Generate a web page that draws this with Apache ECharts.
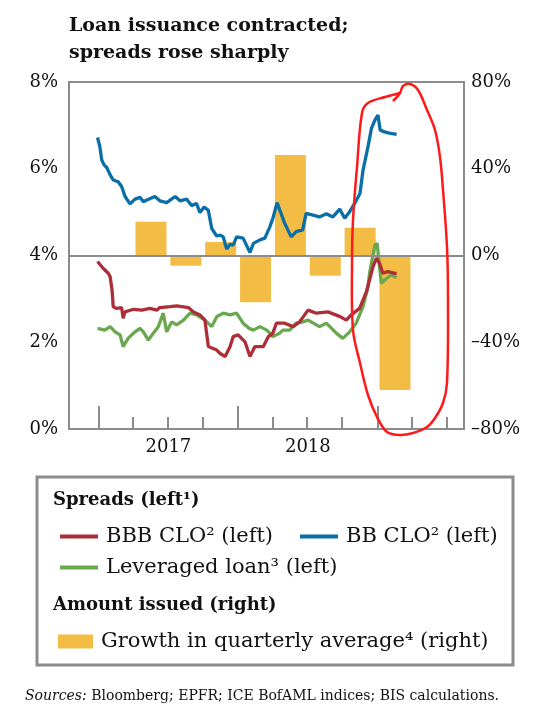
<!DOCTYPE html>
<html><head><meta charset="utf-8">
<script src="https://cdn.jsdelivr.net/npm/echarts@6/dist/echarts.min.js"></script>
<style>html,body{margin:0;padding:0;background:#fff}#c{width:533px;height:716px}</style>
</head><body><div id="c"></div>
<script>
// ---- data ----
const titleText = 'Loan issuance contracted;\nspreads rose sharply';
const yearLabels = [2017, 2018];
const quarterStarts = ['2017-01-01','2017-04-01','2017-07-01','2017-10-01','2018-01-01','2018-04-01','2018-07-01','2018-10-01','2019-01-01','2019-04-01','2019-07-01'];
const leftTicks = [0, 2, 4, 6, 8];
const rightTicks = [-80, -40, 0, 40, 80];

const quarters = ['2017-Q2','2017-Q3','2017-Q4','2018-Q1','2018-Q2','2018-Q3','2018-Q4','2019-Q1'];
const growth = [15.6, -4.7, 6.2, -21.6, 46.3, -9.3, 12.8, -62.0];

const bbDates = ['2016-12-29','2017-01-04','2017-01-09','2017-01-15','2017-01-22','2017-01-31','2017-02-08','2017-02-21','2017-03-02','2017-03-11','2017-03-24','2017-04-06','2017-04-19','2017-04-28','2017-05-07','2017-05-28','2017-06-10','2017-06-28','2017-07-20','2017-08-02','2017-08-19','2017-09-01','2017-09-14','2017-09-23','2017-10-04','2017-10-15','2017-10-24','2017-11-06','2017-11-15','2017-11-23','2017-12-02','2017-12-11','2017-12-19','2017-12-28','2018-01-14','2018-02-01','2018-02-10','2018-02-27','2018-03-12','2018-03-25','2018-04-02','2018-04-13','2018-04-20','2018-05-03','2018-05-20','2018-06-02','2018-06-19','2018-06-28','2018-07-16','2018-08-02','2018-08-20','2018-09-06','2018-09-24','2018-10-07','2018-10-20','2018-11-02','2018-11-16','2018-11-24','2018-12-07','2018-12-16','2018-12-25','2019-01-02','2019-01-08','2019-01-19','2019-02-01','2019-02-20'];
const bbValues = [6.72,6.51,6.20,6.09,6.03,5.86,5.74,5.70,5.59,5.36,5.19,5.30,5.34,5.24,5.28,5.36,5.26,5.22,5.36,5.26,5.30,5.15,5.20,4.99,5.12,5.04,4.62,4.45,4.47,4.43,4.15,4.26,4.24,4.43,4.40,4.07,4.28,4.36,4.40,4.66,4.86,5.22,5.05,4.74,4.43,4.55,4.59,4.97,4.93,4.89,4.96,4.89,5.07,4.86,5.01,5.20,5.43,5.97,6.51,6.93,7.12,7.24,6.89,6.85,6.82,6.79];

const bbbDates = ['2016-12-29','2017-01-13','2017-01-26','2017-01-31','2017-02-05','2017-02-08','2017-02-17','2017-03-02','2017-03-06','2017-03-11','2017-04-02','2017-04-24','2017-05-15','2017-06-02','2017-06-10','2017-07-07','2017-07-24','2017-08-24','2017-09-06','2017-09-23','2017-10-06','2017-10-15','2017-11-06','2017-11-15','2017-11-28','2017-12-11','2017-12-19','2018-01-01','2018-01-19','2018-02-01','2018-02-14','2018-03-08','2018-03-21','2018-04-02','2018-04-11','2018-05-03','2018-05-25','2018-06-11','2018-07-03','2018-07-25','2018-08-24','2018-09-25','2018-10-11','2018-10-24','2018-11-15','2018-12-03','2018-12-20','2018-12-29','2019-01-06','2019-01-15','2019-01-28','2019-02-15','2019-02-20'];
const bbbValues = [3.86,3.70,3.59,3.51,3.20,2.82,2.78,2.80,2.55,2.70,2.76,2.74,2.78,2.74,2.80,2.82,2.84,2.80,2.70,2.63,2.51,1.90,1.82,1.74,1.67,1.90,2.13,2.17,2.01,1.67,1.90,1.90,2.13,2.21,2.44,2.44,2.36,2.47,2.74,2.67,2.70,2.59,2.51,2.63,2.78,3.17,3.74,3.94,3.82,3.59,3.63,3.59,3.59];

const loanDates = ['2016-12-29','2017-01-17','2017-01-31','2017-02-13','2017-02-26','2017-03-06','2017-03-19','2017-04-02','2017-04-19','2017-04-28','2017-05-11','2017-05-24','2017-06-06','2017-06-19','2017-06-28','2017-07-11','2017-07-24','2017-08-11','2017-08-28','2017-09-14','2017-10-06','2017-10-24','2017-11-06','2017-11-23','2017-12-11','2017-12-28','2018-01-14','2018-01-30','2018-02-10','2018-02-27','2018-03-17','2018-03-25','2018-04-02','2018-04-20','2018-04-28','2018-05-16','2018-06-02','2018-06-19','2018-07-03','2018-07-25','2018-08-02','2018-08-20','2018-09-15','2018-10-02','2018-10-20','2018-11-06','2018-11-24','2018-12-07','2018-12-11','2018-12-25','2018-12-31','2019-01-06','2019-01-11','2019-01-24','2019-02-06','2019-02-20'];
const loanValues = [2.32,2.28,2.36,2.24,2.17,1.90,2.09,2.21,2.32,2.24,2.05,2.21,2.36,2.67,2.24,2.47,2.40,2.51,2.67,2.63,2.51,2.36,2.59,2.67,2.63,2.67,2.44,2.32,2.28,2.36,2.28,2.21,2.13,2.21,2.28,2.28,2.44,2.47,2.51,2.40,2.36,2.44,2.21,2.09,2.24,2.44,2.82,3.28,3.59,4.24,4.28,3.74,3.36,3.47,3.55,3.49];

// ---- helpers ----
function toYear(s) {
  const d = Date.parse(s + 'T00:00:00Z');
  const y = new Date(d).getUTCFullYear();
  const a = Date.UTC(y, 0, 1), b = Date.UTC(y + 1, 0, 1);
  return y + (d - a) / (b - a);
}
function quarterMid(q) {
  const y = +q.slice(0, 4), n = +q.slice(6);
  return y + (n - 1) * 0.25 + 0.125;
}
const zip = (ds, vs) => ds.map((d, i) => [toYear(d), vs[i]]);

const FONT = '"DejaVu Serif", "Liberation Serif", serif';
const GRAY = '#8c8c8c';
const C_RED = '#ad2e38', C_BLUE = '#0a6fa8', C_GREEN = '#6aa84f', C_BAR = '#f3bc45';
const X_MIN = 2016.787, X_MAX = 2019.62;
const TICK_SHORT = 12, TICK_LONG = 23;

const chart = echarts.init(document.getElementById('c'), null, {renderer: 'canvas'});
const names = ['BBB CLO\u00b2 (left)', 'BB CLO\u00b2 (left)', 'Leveraged loan\u00b3 (left)', 'Growth in quarterly average\u2074 (right)'];

const legendBase = {
  orient: 'horizontal', itemGap: 0, icon: 'rect', itemWidth: 38, itemHeight: 4,
  selectedMode: false,
  textStyle: {fontFamily: FONT, fontSize: 21, color: '#111', padding: [0, 0, 0, 3]}
};

const staticGraphic = [
  {type: 'text', x: 69, y: 13, style: {text: titleText, font: 'bold 19px ' + FONT, fill: '#111', lineHeight: 27}},
  {type: 'rect', z: -10, shape: {x: 37, y: 477, width: 476, height: 188}, style: {fill: '#fff', stroke: GRAY, lineWidth: 3}},
  {type: 'text', x: 53, y: 491, style: {text: 'Spreads (left\u00b9)', font: 'bold 18px ' + FONT, fill: '#111'}},
  {type: 'text', x: 53, y: 596, style: {text: 'Amount issued (right)', font: 'bold 18px ' + FONT, fill: '#111'}},
  {type: 'text', x: 25, y: 689, style: {
    text: '{i|Sources:} Bloomberg; EPFR; ICE BofAML indices; BIS calculations.',
    font: '14px ' + FONT, fill: '#111',
    rich: {i: {fontStyle: 'italic', fontFamily: FONT, fontSize: 14, fill: '#111'}}}},
  {type: 'polyline', z: 100, shape: {smooth: 0.35, points: [
    [393,101],[400,93],[403,86],[410,84],[418,90],[427,110],[435,130],[440,157],[443,190],[447,247],[448,300],
    [447,383],[443,403],[435,418],[427,427],[413,433],[400,435],[387,432],[377,417],[368,395],[360,363],
    [353,330],[352,263],[353,220],[357,167],[362,113],[368,103],[385,97],[400,93]]},
    style: {stroke: '#ff1a1a', lineWidth: 2.5, fill: null}}
];

chart.setOption({
  animation: false,
  backgroundColor: '#fff',
  grid: {left: 69, right: 69, top: 82, bottom: 287, show: true, borderColor: GRAY, borderWidth: 2, backgroundColor: 'transparent'},
  xAxis: {
    type: 'value', min: X_MIN, max: X_MAX, position: 'bottom',
    axisLine: {show: false, onZero: false},
    splitLine: {show: false},
    axisTick: {show: false},
    axisLabel: {show: true, customValues: yearLabels.map(y => y + 0.5), formatter: v => String(Math.floor(v)),
      fontFamily: FONT, fontSize: 18, color: '#111', margin: 9}
  },
  yAxis: [{
    type: 'value', min: 0, max: 8, interval: 2, position: 'left',
    axisLine: {show: false, onZero: false}, axisTick: {show: false}, splitLine: {show: false},
    axisLabel: {formatter: v => v + '%', fontFamily: FONT, fontSize: 18, color: '#111', margin: 11}
  }, {
    type: 'value', min: -80, max: 80, interval: 40, position: 'right',
    axisLine: {show: false, onZero: false}, axisTick: {show: false}, splitLine: {show: false},
    axisLabel: {formatter: v => (v < 0 ? '\u2013' + Math.abs(v) : v) + '%', fontFamily: FONT, fontSize: 18, color: '#111', margin: 7}
  }],
  legend: [
    Object.assign({}, legendBase, {data: [names[0]], left: 55, top: 521}),
    Object.assign({}, legendBase, {data: [names[1]], left: 295, top: 521}),
    Object.assign({}, legendBase, {data: [names[2]], left: 55, top: 552}),
    Object.assign({}, legendBase, {data: [names[3]], left: 53, top: 626, itemWidth: 35, itemHeight: 14})
  ],
  series: [{
    name: names[3], type: 'bar', xAxisIndex: 0, yAxisIndex: 1,
    data: quarters.map((q, i) => [quarterMid(q), growth[i]]),
    barWidth: 31, itemStyle: {color: C_BAR}, z: 1,
    markLine: {silent: true, symbol: 'none', label: {show: false},
      lineStyle: {color: GRAY, width: 2, type: 'solid'}, data: [{yAxis: 0}]}
  }, {
    name: names[1], type: 'line', xAxisIndex: 0, yAxisIndex: 0,
    data: zip(bbDates, bbValues), showSymbol: false, lineStyle: {color: C_BLUE, width: 3.3}, itemStyle: {color: C_BLUE}, z: 3
  }, {
    name: names[2], type: 'line', xAxisIndex: 0, yAxisIndex: 0,
    data: zip(loanDates, loanValues), showSymbol: false, lineStyle: {color: C_GREEN, width: 3.3}, itemStyle: {color: C_GREEN}, z: 3
  }, {
    name: names[0], type: 'line', xAxisIndex: 0, yAxisIndex: 0,
    data: zip(bbbDates, bbbValues), showSymbol: false, lineStyle: {color: C_RED, width: 3.3}, itemStyle: {color: C_RED}, z: 3
  }],
  graphic: staticGraphic
});

// x-axis ticks: quarter boundaries (short) and year boundaries (long), placed through the axis scale
const tickGraphic = quarterStarts.map(s => {
  const isYear = s.slice(5) === '01-01';
  const p = chart.convertToPixel({xAxisIndex: 0, yAxisIndex: 0}, [toYear(s), 0]);
  const x = Math.round(p[0]);
  return {type: 'line', z: 50, silent: true,
    shape: {x1: x, y1: p[1], x2: x, y2: p[1] - (isYear ? TICK_LONG : TICK_SHORT)},
    style: {stroke: GRAY, lineWidth: 2}};
});
chart.setOption({graphic: staticGraphic.concat(tickGraphic)});
</script>
</body></html>
